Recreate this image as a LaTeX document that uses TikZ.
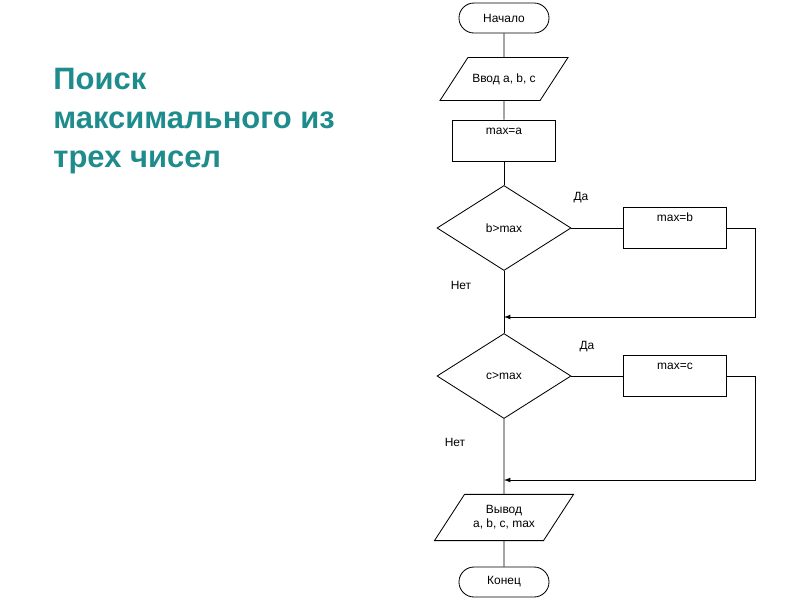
\documentclass[tikz,border=0pt]{standalone}
\usepackage{fontspec}
\setmainfont{Liberation Sans}
\usetikzlibrary{shapes.geometric,shapes.misc}
\definecolor{titleteal}{RGB}{30,140,140}

\begin{document}
\begin{tikzpicture}[x=0.025cm,y=-0.025cm,line width=0.6pt,>=latex,
    every node/.style={font=\fontsize{8.5}{10}\selectfont},
    term/.style={draw,rounded rectangle,minimum width=2.25cm,minimum height=0.75cm,inner sep=0pt},
    io/.style={draw,trapezium,trapezium left angle=57,trapezium right angle=123,
      trapezium stretches body,minimum width=3.2cm,inner xsep=0pt,inner ysep=0.4cm},
    procbox/.style={draw,minimum width=2.575cm,inner sep=0pt,text height=0.35cm,text depth=0.675cm},
    cond/.style={draw,diamond,minimum width=3.35cm,minimum height=2.125cm,inner sep=0pt}]
    \useasboundingbox (0,0) rectangle (800,600);
    % title
    \node[anchor=north west,inner sep=0pt,align=left,text=titleteal,
      font=\fontsize{22}{27.7}\selectfont\bfseries] (title) at (53,68)
      {Поиск\\максимального из\\трех чисел};
    % flowchart
    \node[term] (start) at (504,18) {Начало};
    \node[io] (input) at (504,79) {Ввод a, b, c};
    \node[procbox] (maxa) at (504,140.5) {max=a};
    \node[cond] (cond1) at (504,228) {b>max};
    \node[procbox] (maxb) at (675,228) {max=b};
    \node[cond] (cond2) at (504,376) {c>max};
    \node[procbox] (maxc) at (675,376) {max=c};
    \node[io,align=center,inner ysep=0.28cm,minimum width=3.475cm] (output) at (504,517.5)
      {Вывод\\a, b, c, max};
    \node[term] (stop) at (504,582) {Конец};
    \node (yes1) at (581,198) {Да};
    \node (no1) at (461,285) {Нет};
    \node (yes2) at (587,347) {Да};
    \node (no2) at (455,442) {Нет};
    \coordinate (j1) at (504,317);
    \coordinate (j2) at (504,480);
    % connectors
    \draw (start) -- (input);
    \draw (input) -- (maxa);
    \draw (maxa) -- (cond1);
    \draw (cond1) -- (maxb);
    \draw (cond1) -- (cond2);
    \draw[->] (maxb.east) -- ++(28,0) |- (j1);
    \draw (cond2) -- (maxc);
    \draw (cond2) -- (output);
    \draw[->] (maxc.east) -- ++(28,0) |- (j2);
    \draw (output) -- (stop);
\end{tikzpicture}
\end{document}
